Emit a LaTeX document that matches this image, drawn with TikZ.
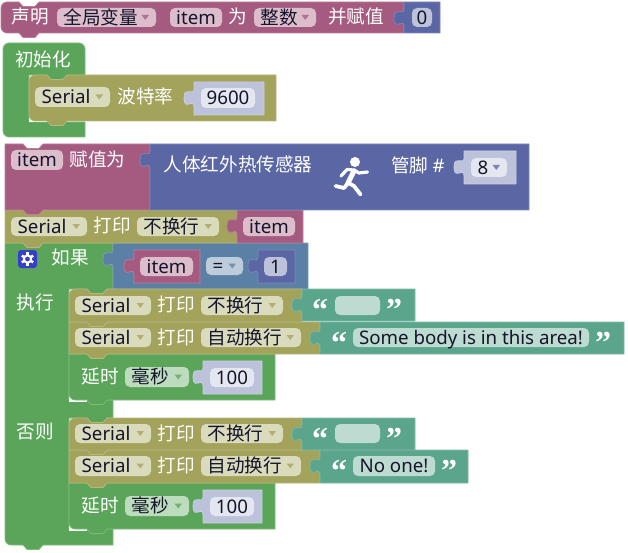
\documentclass[tikz,border=0pt]{standalone}
\usepackage{fontspec}
\setmainfont{Noto Sans CJK SC}
\newfontfamily\latf{Noto Sans}
\newfontfamily\qf{Liberation Serif}
\newcommand{\lat}{\latf\fontsize{18.7}{20}\selectfont}
\definecolor{cM}{HTML}{A55B80}
\definecolor{cB}{HTML}{5B67A5}
\definecolor{cO}{HTML}{A3A35B}
\definecolor{cG}{HTML}{5BA55B}
\definecolor{cT}{HTML}{5BA58C}
\definecolor{cL}{HTML}{5B80A5}
\definecolor{cS}{HTML}{BDC2DB}
\definecolor{ink}{HTML}{15152A}
\newcount\tcnt
\tikzset{
  lab/.style={anchor=center,inner sep=0,text=white,text height=14pt,text depth=.5pt,font=\fontsize{18.6}{20}\selectfont},
  fieldtxt/.style={anchor=center,inner sep=0,text=ink,text height=14pt,text depth=.5pt,font=\fontsize{18.6}{20}\selectfont},
  blockedge/.style={line width=.7pt,line join=round}
}
\newcommand{\nx}{\global\advance\tcnt by 1\relax}
% statement block: colour,x1,y1,x2,y2,top-left radius,bottom-left radius
\newcommand{\stmt}[7]{%
 \path[fill=#1,draw=#1!78!white,blockedge]
  [rounded corners=#6pt] ({#2},{#3+12}) -- ({#2},#3) -- ({#2+12},#3) [sharp corners]
  -- ({#2+18},#3) -- ({#2+22},{#3+4.5}) -- ({#2+34},{#3+4.5}) -- ({#2+38},#3) -- (#4,#3) -- (#4,#5)
  -- ({#2+38},#5) -- ({#2+34},{#5+4.5}) -- ({#2+22},{#5+4.5}) -- ({#2+18},#5) -- ({#2+12},#5)
  [rounded corners=#7pt] -- (#2,#5) -- (#2,{#5-12}) [sharp corners] -- cycle;}
% value block with puzzle tab on the left
\newcommand{\val}[5]{%
 \path[fill=#1,draw=#1!78!white,blockedge]
  (#2,#3) -- (#4,#3) -- (#4,#5) -- (#2,#5) -- (#2,{#3+25})
  .. controls (#2,{#3+15}) and ({#2-10},{#3+30}) .. ({#2-10},{#3+16})
  .. controls ({#2-10},{#3+3}) and (#2,{#3+15}) .. (#2,{#3+7}) -- cycle;}
\newcommand{\fld}[5]{\nx
 \fill[white,opacity=.6,rounded corners=5pt] (#1,#2) rectangle (#3,#4);
 \node[fieldtxt] (t\the\tcnt) at ({(#1+#3)/2},{(#2+#4)/2}) {#5};}
% dropdown field: x1,y1,x2,y2,text,arrow colour
\newcommand{\dd}[6]{\nx
 \fill[white,opacity=.6,rounded corners=5pt] (#1,#2) rectangle (#3,#4);
 \node[fieldtxt,anchor=west] (t\the\tcnt) at ({#1+6.5},{(#2+#4)/2}) {#5};
 \fill[#6,opacity=.75] ({#3-14.5},{(#2+#4)/2-2.5}) -- ({#3-7},{(#2+#4)/2-2.5}) -- ({#3-10.75},{(#2+#4)/2+2.5}) -- cycle;}
\newcommand{\lb}[3]{\nx\node[lab] (t\the\tcnt) at (#1,#2) {#3};}
\newcommand{\qq}[3]{\nx\node[inner sep=0,text=white,font=\qf\bfseries\fontsize{32}{32}\selectfont] (t\the\tcnt) at (#1,{#2+5}) {#3};}
\begin{document}
\begin{tikzpicture}[x=1pt,y=-1pt]
\fill[white] (0,0) rectangle (628,553);
\useasboundingbox (0,0) rectangle (628,553);

% ---------- declaration
\stmt{cM}{1}{2}{404}{33}{6}{6}
\val{cB}{404}{2}{440}{33}
\lb{30.5}{17}{声明}
\dd{57}{8}{156}{27}{全局变量}{cM}
\fld{170}{8}{222}{27}{\lat item}
\lb{238}{17}{为}
\dd{254}{8}{316}{27}{整数}{cM}
\lb{356}{17}{并赋值}
\fld{412}{8}{432}{27}{\lat 0}

% ---------- setup
\path[fill=cG,draw=cG!78!white,blockedge]
 [rounded corners=6pt] (3,60) -- (3,43) -- (85,43) [sharp corners] -- (85,75) -- (67,75) -- (63,79.5) -- (51,79.5) -- (47,75) -- (29,75) -- (29,122) -- (85,122) -- (85,137)
 [rounded corners=6pt] -- (3,137) -- (3,120) [sharp corners] -- cycle;
\lb{43}{59.5}{初始化}
\fill[white] (29.4,108) rectangle (47,122.5);
\stmt{cO}{29}{75}{276}{121}{6}{6}
\lb{145.5}{97}{波特率}
\dd{35}{87}{110}{107}{\lat Serial}{cO}
\val{cS}{194}{82}{264}{115}
\fld{201}{88}{255}{108}{\lat 9600}

% ---------- if/else frame
\path[fill=cG,draw=cG!78!white,blockedge]
 (5,243) -- (23,243) -- (27,247.5) -- (39,247.5) -- (43,243) -- (113,243) -- (113,289) -- (107,289) -- (103,293.5) -- (91,293.5) -- (87,289) -- (69,289) -- (69,400) -- (113,400) -- (113,418)
 -- (107,418) -- (103,422.5) -- (91,422.5) -- (87,418) -- (69,418) -- (69,529) -- (113,529) -- (113,545) -- (43,545) -- (39,549.5) -- (27,549.5) -- (23,545) -- (17,545)
 [rounded corners=6pt] -- (5,545) -- (5,530) [sharp corners] -- cycle;
\lb{35.5}{303}{执行}
\lb{35.5}{432}{否则}
\lb{70}{258}{如果}
% gear
\fill[cB!60!blue,rounded corners=3pt] (18,250) rectangle (37,268);
\foreach \a in {30,90,...,330}{\draw[white,line width=2.4pt] (27.5,259) ++(\a:3) -- ++(\a:3.6);}
\draw[white,line width=2pt] (27.5,259) circle (3.6);
\fill[white] (69.4,387) rectangle (87,401.5);
\fill[white] (69.4,516) rectangle (87,530.5);

% condition
\val{cL}{113}{243}{308}{289}
\val{cM}{134}{250}{200}{283}
\fld{140}{257}{193}{276}{\lat item}
\dd{206}{257}{243}{275}{\lat =}{cL}
\val{cB}{258}{250}{295}{283}
\fld{264}{257}{287}{276}{\lat 1}

% ---------- then branch
\stmt{cG}{69}{354}{275}{400}{0}{6}
\lb{100}{377}{延时}
\dd{125}{367}{189}{387}{毫秒}{cG}
\val{cS}{203}{361}{262}{394}
\fld{210}{368}{254}{387}{\lat 100}

\stmt{cO}{69}{322}{320}{354}{0}{0}
\val{cT}{320}{322}{624}{354}
\lb{176}{338}{打印}
\dd{75}{328}{151}{347}{\lat Serial}{cO}
\dd{201}{328}{301}{347}{自动换行}{cO}
\qq{339}{338}{“}
\fld{353}{328}{589}{347}{\lat Some body is in this area!}
\qq{603}{338}{”}

\stmt{cO}{69}{289}{302}{322}{6}{0}
\val{cT}{302}{289}{415}{321}
\lb{176}{305}{打印}
\dd{75}{296}{151}{315}{\lat Serial}{cO}
\dd{201}{296}{283}{315}{不换行}{cO}
\qq{320}{305}{“}
\fld{335}{296}{380}{315}{}
\qq{394}{305}{”}

% ---------- else branch
\stmt{cG}{69}{483}{275}{529}{0}{6}
\lb{100}{506}{延时}
\dd{125}{496}{189}{516}{毫秒}{cG}
\val{cS}{203}{490}{262}{523}
\fld{210}{497}{254}{516}{\lat 100}

\stmt{cO}{69}{450}{320}{483}{0}{0}
\val{cT}{320}{450}{468}{483}
\lb{176}{466}{打印}
\dd{75}{456}{151}{476}{\lat Serial}{cO}
\dd{201}{456}{301}{476}{自动换行}{cO}
\qq{339}{466}{“}
\fld{353}{456}{435}{476}{\lat No one!}
\qq{449}{466}{”}

\stmt{cO}{69}{418}{302}{450}{6}{0}
\val{cT}{302}{418}{415}{450}
\lb{176}{434}{打印}
\dd{75}{424}{151}{443}{\lat Serial}{cO}
\dd{201}{424}{283}{443}{不换行}{cO}
\qq{320}{434}{“}
\fld{335}{424}{380}{443}{}
\qq{394}{434}{”}

% ---------- print item
\stmt{cO}{5}{210}{237}{243}{0}{0}
\val{cM}{237}{210}{303}{243}
\lb{112}{226}{打印}
\dd{11}{217}{87}{236}{\lat Serial}{cO}
\dd{137}{217}{219}{236}{不换行}{cO}
\fld{243}{217}{295}{236}{\lat item}

% ---------- assignment with sensor
\stmt{cM}{5}{144}{150}{210}{0}{0}
\val{cB}{150}{144}{529}{210}
\fld{11}{150}{63}{170}{\lat item}
\lb{97.5}{160}{赋值为}
\lb{238}{165}{人体红外热传感器}
\lb{418}{166}{管脚 {\lat\#}}
\val{cS}{464}{151}{516}{184}
\dd{471}{158}{507}{177}{\lat 8}{cB}
% runner
\fill[white] (355,162) circle (5);
\draw[white,line width=5pt,line cap=round,line join=round] (354,171) -- (348,183);
\draw[white,line width=3.2pt,line cap=round,line join=round] (341,176) -- (347,169.5) -- (354,170) -- (359,173) -- (367.5,172);
\draw[white,line width=3.8pt,line cap=round,line join=round] (348,183) -- (354,186) -- (360.5,194.5);
\draw[white,line width=3.8pt,line cap=round,line join=round] (348,183) -- (344,188) -- (335.5,186);
\end{tikzpicture}
\end{document}
